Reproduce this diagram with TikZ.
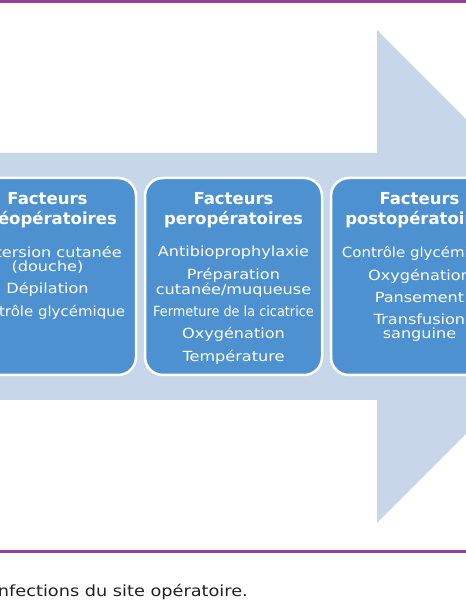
\documentclass[tikz,border=0pt]{standalone}
\usepackage{fontspec}
\setmainfont{DejaVu Sans}[FakeStretch=1.15]
\newfontfamily\titrefont{DejaVu Sans}
\usepackage{xcolor}
\usetikzlibrary{positioning, calc}
\definecolor{fleche}{HTML}{C7D6E9}
\definecolor{bloc}{HTML}{4E91D1}
\definecolor{filet}{HTML}{9A3D98}
\definecolor{legendetxt}{HTML}{231F20}
\tikzset{
  phase/.style={rectangle, draw=white, line width=2.5pt, rounded corners=18pt,
                fill=bloc, minimum width=177pt, minimum height=197pt, inner sep=0pt},
  titre/.style={anchor=north, align=center, text=white, inner sep=0pt,
                font=\titrefont\bfseries\fontsize{16.5}{20}\selectfont},
  liste/.style={anchor=north, align=center, text=white, inner sep=0pt,
                font=\fontsize{14}{14}\selectfont},
  filetpourpre/.style={draw=filet, line width=2.5pt},
}

\begin{document}
\begin{tikzpicture}[x=1pt, y=1pt]
  \useasboundingbox (0,0) rectangle (466,600);
  \clip (0,0) rectangle (466,600);
  % grande fleche de fond
  \fill[fleche] (-10,447) -- (377,447) -- (377,570) -- (623,323.5)
    -- (377,77) -- (377,200) -- (-10,200) -- cycle;
  % les trois blocs
  \node[phase] (per) at (233.5,323.5) {};
  \node[phase, left=6.5pt of per]  (pre)  {};
  \node[phase, right=6.5pt of per] (post) {};
  \node[titre] (tpre)  at ($(pre.north)+(0,-15.5)$)  {Facteurs\\préopératoires};
  \node[titre] (tper)  at ($(per.north)+(0,-15.5)$)  {Facteurs\\peropératoires};
  \node[titre] (tpost) at ($(post.north)+(0,-15.5)$) {Facteurs\\postopératoires};
  \node[liste, below=17.5pt of tpre.south, anchor=north] (lpre)
    {Détersion cutanée\\(douche)\\[8pt]Dépilation\\[8pt]%
     \scalebox{0.93}[1]{Contrôle glycémique}};
  \node[liste, below=17.5pt of tper.south, anchor=north] (lper)
    {Antibioprophylaxie\\[8pt]Préparation\\cutanée/muqueuse\\[8pt]%
     \scalebox{0.8}[1]{Fermeture de la cicatrice}\\[8pt]Oxygénation\\[8pt]Température};
  \node[liste, below=17.5pt of tpost.south, anchor=north] (lpost)
    {\scalebox{0.93}[1]{Contrôle glycémique}\\[8pt]Oxygénation\\[8pt]Pansement\\[8pt]%
     Transfusion\\sanguine};
  % filets et legende
  \coordinate (fhg) at (0,598.3);  \coordinate (fhd) at (466,598.3);
  \coordinate (fbg) at (0,48.5);   \coordinate (fbd) at (466,48.5);
  \draw[filetpourpre] (fhg) -- (fhd);
  \draw[filetpourpre] (fbg) -- (fbd);
  \node[anchor=base east, inner sep=0pt, text=legendetxt,
        font=\fontsize{15.4}{17}\selectfont] (legende) at (248,3)
    {Infections du site opératoire.};
\end{tikzpicture}
\end{document}
